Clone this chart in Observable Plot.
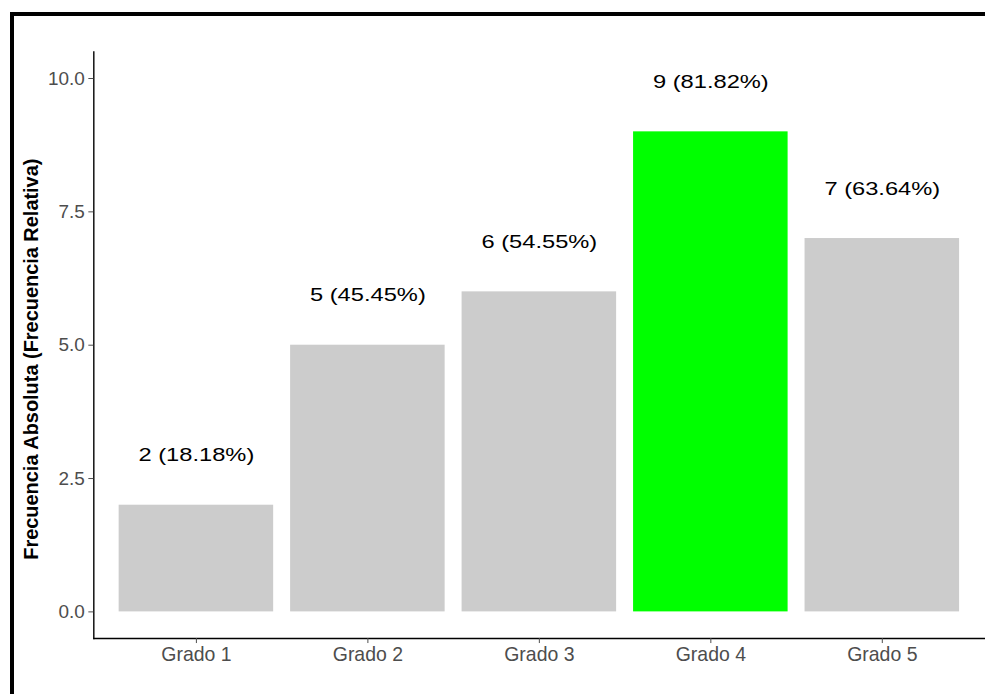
<!DOCTYPE html>
<html><head><meta charset="utf-8">
<script src="https://cdn.jsdelivr.net/npm/d3@7"></script>
<script src="https://cdn.jsdelivr.net/npm/@observablehq/plot@0.6"></script>
<style>
html,body{margin:0;padding:0;background:#fff;overflow:hidden;}
#wrap{position:relative;width:985px;height:694px;overflow:hidden;background:#fff;}
#border{position:absolute;left:10px;top:12px;width:1000px;height:700px;border-top:4px solid #000;border-left:4px solid #000;box-sizing:border-box;pointer-events:none;}
#chart{position:absolute;left:0;top:0;}
</style></head><body>
<div id="wrap"><div id="chart"></div><div id="border"></div></div>
<script>
const categories = ["Grado 1","Grado 2","Grado 3","Grado 4","Grado 5"];
const counts = [2, 5, 6, 9, 7];
const percents = [18.18, 45.45, 54.55, 81.82, 63.64];
const barColors = ["#cccccc","#cccccc","#cccccc","#00ff00","#cccccc"];
const yTicks = [0, 2.5, 5, 7.5, 10];
const yTitle = "Frecuencia Absoluta (Frecuencia Relativa)";

const data = categories.map((c, i) => ({
  grado: c, n: counts[i],
  label: `${counts[i]} (${percents[i].toFixed(2)}%)`
}));

const font = "'Liberation Sans', Arial, Helvetica, sans-serif";

const chart = Plot.plot({
  width: 988, height: 694,
  marginLeft: 93.6, marginRight: 0, marginTop: 51.5, marginBottom: 54,
  style: {fontFamily: font, background: "transparent", overflow: "visible"},
  x: {domain: categories, paddingInner: 0.1, paddingOuter: 0.15, label: null},
  y: {domain: [-0.5, 10.5], label: null},
  color: {domain: categories, range: barColors},
  marks: [
    Plot.barY(data, {x: "grado", y: "n", fill: "grado"}),
    Plot.ruleY([-0.5], {stroke: "#000", strokeWidth: 1.4}),
    Plot.frame({anchor: "left", stroke: "#000", strokeWidth: 1.4}),
    Plot.axisY({ticks: yTicks, tickFormat: d3.format(".1f"), tickSize: 5, tickPadding: 4,
      fontSize: 19, color: "#4d4d4d", label: null}),
    Plot.axisX({tickSize: 5, tickPadding: 4, fontSize: 19.5, color: "#4d4d4d", label: null}),
    Plot.text(data, {x: "grado", y: "n", text: "label", dy: -50, fontSize: 19,
      fill: "#000", lineAnchor: "middle", ariaDescription: "barlabels"}),
    Plot.text([yTitle], {frameAnchor: "left", rotate: -90, dx: -62, dy: 14,
      fontSize: 20, fontWeight: "bold", fill: "#000", textAnchor: "middle", lineAnchor: "middle"})
  ]
});

// widen bar value labels horizontally (about their anchor) to match the reference glyph proportions
chart.querySelectorAll('g[aria-description="barlabels"] text').forEach(t => {
  const tr = t.getAttribute("transform") || "";
  t.setAttribute("transform", `${tr} scale(1.25,1)`);
});

document.getElementById("chart").appendChild(chart);
</script>
</body></html>
